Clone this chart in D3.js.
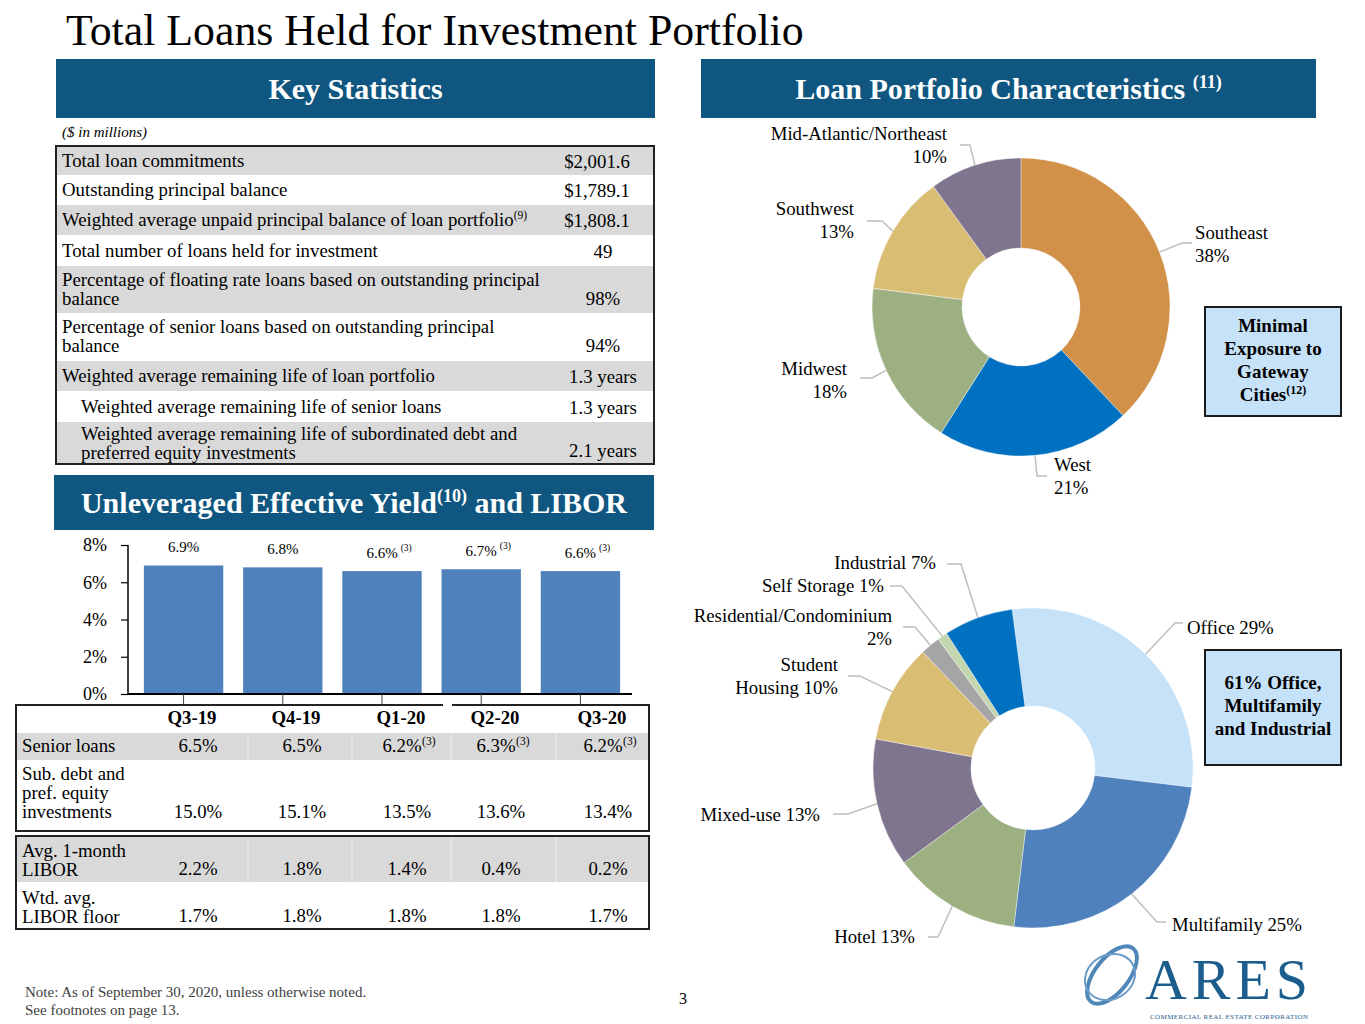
<!DOCTYPE html>
<html lang="en">
<head>
<meta charset="UTF-8">
<title>Total Loans Held for Investment Portfolio</title>
<script src="https://d3js.org/d3.v7.min.js"></script>
<style>
    body { margin: 0; background: #fff; }
    svg text { font-family: "Liberation Serif", "Times New Roman", serif; fill: #000; }
    .hdr-bar { fill: #0f5680; }
    .hdr { fill: #fff !important; font-weight: bold; font-size: 30px; }
    .cell { font-size: 18.8px; }
    .bold { font-weight: bold; }
    .leader { fill: none; stroke: #bfbfbf; stroke-width: 1.5px; }
    .slice-label { font-size: 18.8px; }
    .callout { fill: #c6e2f8; stroke: #1a1a1a; stroke-width: 2px; }
    .callout-text { font-size: 19px; font-weight: bold; }
    .foot { font-size: 15px; fill: #404040 !important; }
</style>
</head>
<body>
<svg id="slide" width="1365" height="1024"></svg>
<script>
    // ---- data ----
    const statLabels = [
        ["Total loan commitments"],
        ["Outstanding principal balance"],
        ["Weighted average unpaid principal balance of loan portfolio"],
        ["Total number of loans held for investment"],
        ["Percentage of floating rate loans based on outstanding principal", "balance"],
        ["Percentage of senior loans based on outstanding principal", "balance"],
        ["Weighted average remaining life of loan portfolio"],
        ["Weighted average remaining life of senior loans"],
        ["Weighted average remaining life of subordinated debt and", " preferred equity investments"]
    ];
    const statNotes = ["", "", "(9)", "", "", "", "", "", ""];
    const statValues = ["$2,001.6", "$1,789.1", "$1,808.1", "49", "98%", "94%", "1.3 years", "1.3 years", "2.1 years"];

    const quarters = ["Q3-19", "Q4-19", "Q1-20", "Q2-20", "Q3-20"];
    const effectiveYield = [6.9, 6.8, 6.6, 6.7, 6.6];
    const yieldNotes = ["", "", "(3)", "(3)", "(3)"];
    const yTicks = [0, 2, 4, 6, 8];
    const seniorYield = [6.5, 6.5, 6.2, 6.3, 6.2];
    const subDebtYield = [15.0, 15.1, 13.5, 13.6, 13.4];
    const libor1m = [2.2, 1.8, 1.4, 0.4, 0.2];
    const liborFloor = [1.7, 1.8, 1.8, 1.8, 1.7];

    const regions = ["Southeast", "West", "Midwest", "Southwest", "Mid-Atlantic/Northeast"];
    const regionShare = [38, 21, 18, 13, 10];
    const regionColors = ["#d19149", "#0070c0", "#9cb081", "#d9bd73", "#80758f"];

    const propertyTypes = ["Office", "Multifamily", "Hotel", "Mixed-use", "Student Housing",
        "Residential/Condominium", "Self Storage", "Industrial"];
    const propertyShare = [29, 25, 13, 13, 10, 2, 1, 7];
    const propertyColors = ["#c6e2f8", "#4f81bd", "#9cb081", "#80758f", "#d9bd73", "#a5a5a5", "#c3d6b0", "#0070c0"];

    const svg = d3.select("#slide");

    // title
    svg.append("text").attr("x", 66).attr("y", 45).style("font-size", "43.8px")
        .text("Total Loans Held for Investment Portfolio");

    // section header bars
    function headerBar(x, y, w, h, parts) {
        svg.append("rect").attr("class", "hdr-bar").attr("x", x).attr("y", y).attr("width", w).attr("height", h);
        const t = svg.append("text").attr("class", "hdr").attr("text-anchor", "middle")
            .attr("x", x + w / 2).attr("y", y + h / 2 + 10);
        parts.forEach(p => {
            const s = t.append("tspan").text(p.t);
            if (p.sup) s.attr("dy", -11).style("font-size", "18px");
            if (p.after) s.attr("dy", 11);
        });
    }
    headerBar(56, 59, 599, 59, [{t: "Key Statistics"}]);
    headerBar(701, 59, 615, 59, [{t: "Loan Portfolio Characteristics "}, {t: "(11)", sup: true}]);
    headerBar(54, 475, 600, 55, [{t: "Unleveraged Effective Yield"}, {t: "(10)", sup: true}, {t: " and LIBOR", after: true}]);

    // ---- key statistics table ----
    svg.append("text").attr("x", 62).attr("y", 137).style("font-size", "15px").style("font-style", "italic")
        .text("($ in millions)");

    const rowTops = [146, 175, 205, 235, 266, 313, 361, 391, 422, 464];
    const statTable = svg.append("g");
    statLabels.forEach((lines, i) => {
        const top = rowTops[i], h = rowTops[i + 1] - top;
        statTable.append("rect").attr("x", 56).attr("y", top).attr("width", 598).attr("height", h)
            .attr("fill", i % 2 === 0 ? "#d9d9d9" : "#fff");
        const indent = i >= 7 ? 19 : 0;
        const multi = lines.length > 1;
        const first = i === 8 ? top + 18 : top + 20;
        lines.forEach((ln, j) => {
            const t = statTable.append("text").attr("class", "cell")
                .attr("x", 62 + indent).attr("y", multi ? first + j * 18.5 : top + h / 2 + 6);
            t.append("tspan").text(ln);
            if (statNotes[i] && j === lines.length - 1) {
                t.append("tspan").attr("dy", -7).style("font-size", "11.5px").text(statNotes[i]);
            }
        });
        // dollar amounts sit a little further left than counts/percentages
        const vx = statValues[i].startsWith("$") ? 597 : 603;
        statTable.append("text").attr("class", "cell").attr("text-anchor", "middle")
            .attr("x", vx).attr("y", multi ? (i === 8 ? top + 35 : top + 39) : top + h / 2 + 7)
            .text(statValues[i]);
    });
    statTable.append("rect").attr("x", 56).attr("y", 146).attr("width", 598).attr("height", 318)
        .attr("fill", "none").attr("stroke", "#222").attr("stroke-width", 2);

    // ---- effective yield bar chart ----
    const x = d3.scaleBand().domain(quarters).range([130, 634]).paddingInner(0.2).paddingOuter(0.14);
    const y = d3.scaleLinear().domain([0, 8]).range([694, 545]);

    const bars = svg.append("g");
    bars.selectAll("rect").data(effectiveYield).enter().append("rect")
        .attr("x", (d, i) => x(quarters[i]))
        .attr("y", d => y(d))
        .attr("width", x.bandwidth())
        .attr("height", d => y(0) - y(d))
        .attr("fill", "#4f81bd");

    bars.selectAll("g.vlab").data(effectiveYield).enter().append("g").attr("class", "vlab")
        .each(function (d, i) {
            const g = d3.select(this);
            const cx = x(quarters[i]) + x.bandwidth() / 2;
            const t = g.append("text").attr("text-anchor", "middle").attr("x", cx).attr("y", y(d) - 13)
                .style("font-size", "15px").text(d.toFixed(1) + "%");
            if (yieldNotes[i]) {
                const w = t.node().getComputedTextLength();
                g.append("text").attr("x", cx + w / 2 + 3).attr("y", y(d) - 20)
                    .style("font-size", "9.5px").text(yieldNotes[i]);
            }
        });

    const yAxis = svg.append("g").attr("transform", "translate(128,0)")
        .call(d3.axisLeft(y).tickValues(yTicks).tickFormat(d => d + "%").tickSize(7).tickPadding(14));
    yAxis.select(".domain").attr("stroke", "#000").attr("stroke-width", 1.5).attr("d", "M0,545V694");
    yAxis.selectAll(".tick line").attr("stroke", "#000").attr("stroke-width", 1.2);
    yAxis.selectAll(".tick text").style("font-size", "18px").attr("fill", "#000")
        .style("font-family", "'Liberation Serif', serif");

    svg.append("line").attr("x1", 128).attr("x2", 632).attr("y1", 694).attr("y2", 694)
        .attr("stroke", "#000").attr("stroke-width", 2);
    svg.append("g").selectAll("line").data(quarters).enter().append("line")
        .attr("x1", d => x(d) + x.bandwidth() / 2).attr("x2", d => x(d) + x.bandwidth() / 2)
        .attr("y1", 694).attr("y2", 704).attr("stroke", "#444").attr("stroke-width", 1);

    // ---- yield / LIBOR table ----
    const colX = [198, 302, 407, 501, 608];
    const sepX = [248, 352, 451, 556];
    const ytab = svg.append("g");

    function grayRow(top, h) {
        ytab.append("rect").attr("x", 16).attr("y", top).attr("width", 633).attr("height", h).attr("fill", "#d9d9d9");
        sepX.forEach(sx => ytab.append("line").attr("x1", sx).attr("x2", sx).attr("y1", top).attr("y2", top + h)
            .attr("stroke", "#e6e6e6").attr("stroke-width", 1.5));
    }
    grayRow(733, 27);
    grayRow(836, 46);

    quarters.forEach((q, i) => {
        ytab.append("text").attr("class", "cell bold").attr("text-anchor", "middle")
            .attr("x", colX[i] - 6).attr("y", 724).text(q);
    });

    function valueRow(values, notes, baseline) {
        values.forEach((v, i) => {
            const note = notes ? notes[i] : "";
            const cx = note ? colX[i] - 5 : colX[i];
            const t = ytab.append("text").attr("class", "cell").attr("text-anchor", "middle")
                .attr("x", cx).attr("y", baseline).text(v.toFixed(1) + "%");
            if (note) {
                const w = t.node().getComputedTextLength();
                ytab.append("text").attr("x", cx + w / 2 + 0.5).attr("y", baseline - 7)
                    .style("font-size", "11.5px").text(note);
            }
        });
    }
    function rowLabel(lines, firstBaseline) {
        lines.forEach((ln, j) => ytab.append("text").attr("class", "cell")
            .attr("x", 22).attr("y", firstBaseline + j * 19).text(ln));
    }

    rowLabel(["Senior loans"], 752);
    valueRow(seniorYield, yieldNotes, 752);
    rowLabel(["Sub. debt and", "pref. equity", "investments"], 780);
    valueRow(subDebtYield, null, 818);
    rowLabel(["Avg. 1-month", "LIBOR"], 857);
    valueRow(libor1m, null, 875);
    rowLabel(["Wtd. avg.", "LIBOR floor"], 904);
    valueRow(liborFloor, null, 922);

    // box borders (top border has the small break seen under the axis)
    ytab.append("path").attr("fill", "none").attr("stroke", "#222").attr("stroke-width", 2)
        .attr("d", "M443,705H16V831H649V705H452");
    ytab.append("rect").attr("x", 16).attr("y", 836).attr("width", 633).attr("height", 93)
        .attr("fill", "none").attr("stroke", "#222").attr("stroke-width", 2);

    // ---- donuts ----
    function donut(opts) {
        const pie = d3.pie().sort(null).value(d => d)
            .startAngle(opts.start).endAngle(opts.start + 2 * Math.PI);
        const arcs = pie(opts.values);
        const arc = d3.arc().innerRadius(opts.inner).outerRadius(opts.outer);
        const g = svg.append("g").attr("transform", `translate(${opts.cx},${opts.cy})`);
        g.selectAll("path").data(arcs).enter().append("path")
            .attr("d", arc).attr("fill", (d, i) => opts.colors[i])
            .attr("stroke", "#fff").attr("stroke-width", 0.4);

        const edge = d3.arc().innerRadius(opts.outer).outerRadius(opts.outer);
        arcs.forEach((a, i) => {
            const lab = opts.labels[i];
            const [px, py] = edge.centroid(a);
            svg.append("polyline").attr("class", "leader")
                .attr("points", [[opts.cx + px, opts.cy + py], lab.elbow, lab.end].map(p => p.join(",")).join(" "));
            lab.lines.forEach((ln, j) => {
                svg.append("text").attr("class", "slice-label")
                    .attr("text-anchor", lab.anchor)
                    .attr("x", lab.x).attr("y", lab.y + j * 23).text(ln);
            });
        });
    }

    donut({
        cx: 1021, cy: 307, outer: 149, inner: 59, start: 0,
        values: regionShare, colors: regionColors,
        labels: [
            {lines: [regions[0], regionShare[0] + "%"], anchor: "start", x: 1195, y: 239, elbow: [1182, 243], end: [1192, 243]},
            {lines: [regions[1], regionShare[1] + "%"], anchor: "start", x: 1054, y: 471, elbow: [1037, 476], end: [1047, 476]},
            {lines: [regions[2], regionShare[2] + "%"], anchor: "end", x: 847, y: 375, elbow: [872, 378], end: [860, 378]},
            {lines: [regions[3], regionShare[3] + "%"], anchor: "end", x: 854, y: 215, elbow: [882, 221], end: [867, 221]},
            {lines: [regions[4], regionShare[4] + "%"], anchor: "end", x: 947, y: 140, elbow: [970, 145], end: [960, 145]}
        ]
    });

    donut({
        cx: 1033, cy: 768, outer: 160, inner: 62, start: -7.5 * Math.PI / 180,
        values: propertyShare, colors: propertyColors,
        labels: [
            {lines: [propertyTypes[0] + " " + propertyShare[0] + "%"], anchor: "start", x: 1187, y: 634, elbow: [1175, 623], end: [1183, 623]},
            {lines: [propertyTypes[1] + " " + propertyShare[1] + "%"], anchor: "start", x: 1172, y: 931, elbow: [1157, 922], end: [1166, 922]},
            {lines: [propertyTypes[2] + " " + propertyShare[2] + "%"], anchor: "end", x: 915, y: 943, elbow: [938, 937], end: [928, 937]},
            {lines: [propertyTypes[3] + " " + propertyShare[3] + "%"], anchor: "end", x: 820, y: 821, elbow: [848, 814], end: [833, 814]},
            {lines: ["Student", "Housing " + propertyShare[4] + "%"], anchor: "end", x: 838, y: 671, elbow: [860, 676], end: [848, 676]},
            {lines: [propertyTypes[5], propertyShare[5] + "%"], anchor: "end", x: 892, y: 622, elbow: [915, 627], end: [903, 627]},
            {lines: [propertyTypes[6] + " " + propertyShare[6] + "%"], anchor: "end", x: 884, y: 592, elbow: [902, 586], end: [890, 586]},
            {lines: [propertyTypes[7] + " " + propertyShare[7] + "%"], anchor: "end", x: 936, y: 569, elbow: [961, 564], end: [947, 564]}
        ]
    });

    // call-out boxes
    function callout(x0, y0, w, h, lines, firstBaseline) {
        svg.append("rect").attr("class", "callout").attr("x", x0).attr("y", y0).attr("width", w).attr("height", h);
        lines.forEach((ln, j) => {
            const t = svg.append("text").attr("class", "callout-text").attr("text-anchor", "middle")
                .attr("x", x0 + w / 2).attr("y", firstBaseline + j * 23);
            t.append("tspan").text(ln.t);
            if (ln.sup) t.append("tspan").attr("dy", -7).style("font-size", "12px").text(ln.sup);
        });
    }
    callout(1205, 307, 136, 109, [{t: "Minimal"}, {t: "Exposure to"}, {t: "Gateway"}, {t: "Cities", sup: "(12)"}], 332);
    callout(1205, 650, 136, 115, [{t: "61% Office,"}, {t: "Multifamily"}, {t: "and Industrial"}], 689);

    // ---- footer ----
    svg.append("text").attr("class", "foot").attr("x", 25).attr("y", 997)
        .text("Note: As of September 30, 2020, unless otherwise noted.");
    svg.append("text").attr("class", "foot").attr("x", 25).attr("y", 1015)
        .text("See footnotes on page 13.");
    svg.append("text").attr("x", 683).attr("y", 1004).attr("text-anchor", "middle")
        .style("font-size", "16px").text("3");

    // logo
    const logo = svg.append("g");
    logo.append("ellipse").attr("cx", 1112).attr("cy", 975).attr("rx", 34).attr("ry", 17)
        .attr("transform", "rotate(-52,1112,975)").attr("fill", "none").attr("stroke", "#4f87b8").attr("stroke-width", 4);
    logo.append("ellipse").attr("cx", 1110).attr("cy", 977).attr("rx", 26).attr("ry", 22)
        .attr("transform", "rotate(-30,1110,977)").attr("fill", "none").attr("stroke", "#6a9cc8").attr("stroke-width", 2);
    logo.append("text").attr("x", 1145).attr("y", 999).style("font-size", "58px")
        .style("fill", "#1b5e8e").attr("textLength", 163).text("ARES");
    logo.append("text").attr("x", 1150).attr("y", 1019).style("font-size", "7px")
        .style("fill", "#1b5e8e").attr("textLength", 158).text("COMMERCIAL REAL ESTATE CORPORATION");
</script>
</body>
</html>
